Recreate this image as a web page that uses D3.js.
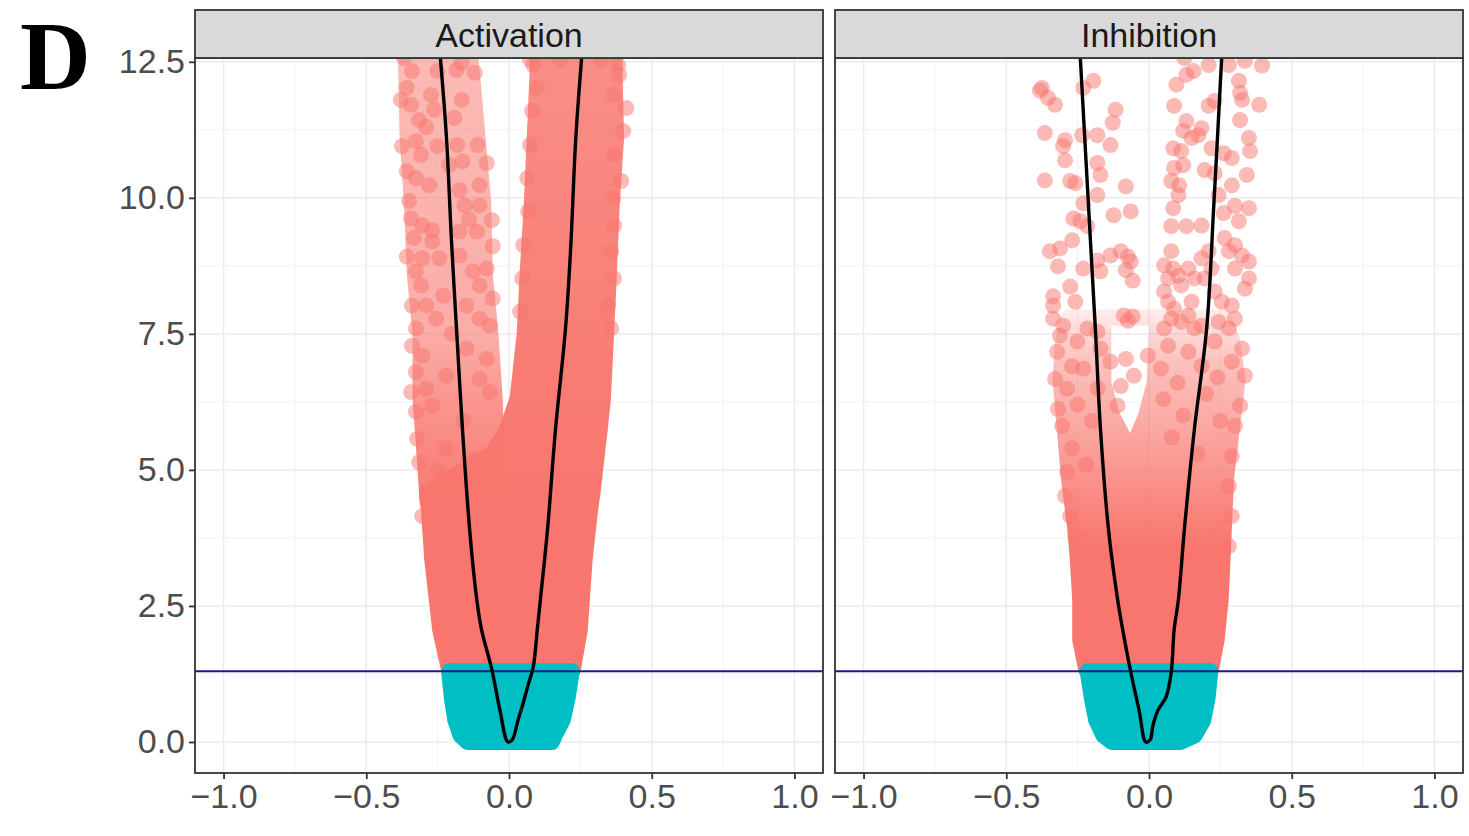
<!DOCTYPE html>
<html>
<head>
<meta charset="utf-8">
<script src="https://cdn.jsdelivr.net/npm/d3@7"></script>
<style>
    body { margin: 0; background: #fff; }
    svg { display: block; font-family: "Liberation Sans", Arial, sans-serif; }
</style>
</head>
<body>
<svg id="canvas"></svg>
<script>
const FACETS = ["Activation", "Inhibition"];
const X_TICKS = [-1, -0.5, 0, 0.5, 1];
const X_MINOR = [-0.75, -0.25, 0.25, 0.75];
const Y_TICKS = [0, 2.5, 5, 7.5, 10, 12.5];
const Y_MINOR = [1.25, 3.75, 6.25, 8.75, 11.25];
const CUTOFF = 1.3;

// dense parts of the point clouds: [y, x left, x right]
const ACT_TEAL = [
    [0.0, -0.145, 0.15], [0.12, -0.17, 0.16], [0.4, -0.188, 0.188], [0.8, -0.2, 0.205], [1.3, -0.21, 0.22]
];
const ACT_MAIN = [
    [1.31, -0.209, 0.223], [2.06, -0.241, 0.248], [3.36, -0.269, 0.265], [4.22, -0.28, 0.283],
    [4.6, -0.287, 0.293], [5.3, -0.06, 0.308], [5.7, -0.01, 0.317],
    [6.31, 0.03, 0.329], [7.5, 0.055, 0.34], [8.6, 0.065, 0.35], [9.9, 0.08, 0.36],
    [11.1, 0.09, 0.375], [12.3, 0.1, 0.37], [12.8, 0.1, 0.37]
];
const ACT_LEFT_ARM = [
    [4.4, -0.285, -0.04], [5.6, -0.3, -0.045], [6.3, -0.31, -0.05], [7.5, -0.31, -0.065],
    [8.6, -0.33, -0.085], [9.9, -0.34, -0.09], [11.1, -0.355, -0.11], [12.3, -0.36, -0.13],
    [12.8, -0.36, -0.14]
];
// how dense each band is along y: [y, share covered]
const ACT_MAIN_DENSITY = [[4.0, 1], [7.0, 0.95], [12.6, 0.82]];
const ACT_LEFT_DENSITY = [[4.5, 0.95], [6.0, 0.8], [7.5, 0.6], [12.6, 0.5]];

const INH_TEAL = [
    [0.0, -0.13, 0.11], [0.12, -0.16, 0.16], [0.4, -0.185, 0.19], [0.8, -0.2, 0.205], [1.3, -0.215, 0.215]
];
const INH_MAIN = [
    [1.31, -0.219, 0.216], [1.88, -0.241, 0.237], [2.62, -0.241, 0.251], [3.4, -0.25, 0.258],
    [3.9, -0.258, 0.262], [4.83, -0.28, 0.27], [5.75, -0.295, 0.29], [6.67, -0.31, 0.31],
    [7.4, -0.3, 0.29], [7.8, -0.28, 0.26]
];
// the empty gap between the two arms
const INH_GAP = [
    [5.5, -0.08, -0.05], [6.0, -0.13, -0.01], [6.6, -0.16, 0.02], [7.8, -0.16, 0.03]
];
const INH_MAIN_DENSITY = [[3.6, 1], [4.8, 0.8], [6.0, 0.6], [7.0, 0.45], [7.9, 0.15]];

// single points around the clouds: [x, y]
const ACT_POINTS = [
    [-0.368, 12.57], [-0.340, 12.33], [-0.358, 12.02], [-0.379, 11.80], [-0.343, 11.71],
    [-0.315, 11.43], [-0.273, 11.89], [-0.251, 12.33], [-0.166, 12.48], [-0.184, 12.35],
    [-0.120, 12.30], [-0.166, 11.80], [-0.191, 11.47], [-0.262, 11.62], [-0.375, 10.95],
    [-0.326, 11.04], [-0.308, 10.79], [-0.251, 10.95], [-0.181, 10.97], [-0.110, 10.97],
    [-0.078, 10.64], [-0.163, 10.67], [-0.358, 10.49], [-0.326, 10.36], [-0.280, 10.23],
    [-0.350, 9.94], [-0.173, 10.14], [-0.103, 10.23], [-0.103, 9.86], [-0.060, 9.59],
    [-0.156, 9.86], [-0.343, 9.62], [-0.304, 9.49], [-0.269, 9.40], [-0.333, 9.26],
    [-0.269, 9.20], [-0.173, 9.38], [-0.113, 9.38], [-0.057, 9.11], [-0.358, 8.92],
    [-0.304, 8.89], [-0.244, 8.89], [-0.326, 8.65], [-0.308, 8.39], [-0.173, 8.94],
    [-0.127, 8.65], [-0.078, 8.70], [-0.103, 8.39], [-0.057, 8.15], [-0.340, 8.02],
    [-0.290, 8.02], [-0.255, 7.78], [-0.326, 7.60], [-0.149, 8.02], [-0.103, 7.78],
    [-0.067, 7.65], [-0.340, 7.28], [-0.304, 7.10], [-0.326, 6.80], [-0.290, 6.49],
    [-0.149, 7.23], [-0.078, 7.04], [-0.103, 6.67], [-0.067, 6.43], [-0.219, 6.73],
    [-0.269, 6.18], [-0.343, 6.43], [-0.326, 6.07], [-0.322, 5.57], [-0.315, 5.14],
    [-0.280, 4.65], [-0.304, 4.15], [-0.22, 5.4], [-0.16, 5.9], [-0.25, 5.0],
    [-0.12, 5.2], [-0.2, 7.5], [-0.23, 8.2], [-0.14, 9.6], [-0.21, 10.6], [-0.29, 11.3],
    [0.382, 12.44], [0.386, 12.26], [0.368, 11.89], [0.411, 11.65], [0.400, 11.23],
    [0.368, 10.79], [0.393, 10.31], [0.365, 9.99], [0.368, 9.49], [0.358, 9.02],
    [0.368, 8.52], [0.347, 8.02], [0.358, 7.60], [0.085, 12.44], [0.099, 12.02],
    [0.081, 11.60], [0.074, 10.97], [0.064, 10.36], [0.067, 9.75], [0.050, 9.13],
    [0.046, 8.52], [0.039, 7.91], [0.074, 12.54], [0.18, 12.54], [0.322, 12.54]
];

const INH_POINTS = [
    [-0.375, 12.02], [-0.382, 11.97], [-0.354, 11.84], [-0.329, 11.71], [-0.365, 11.19],
    [-0.294, 11.06], [-0.301, 10.95], [-0.294, 10.69], [-0.365, 10.32], [-0.276, 10.31],
    [-0.258, 10.27], [-0.230, 12.02], [-0.195, 12.15], [-0.234, 11.15], [-0.181, 11.15],
    [-0.135, 10.97], [-0.117, 11.62], [-0.127, 11.38], [-0.181, 10.64], [-0.170, 10.42],
    [-0.081, 10.21], [-0.181, 10.05], [-0.124, 9.68], [-0.064, 9.75], [-0.230, 9.90],
    [-0.265, 9.62], [-0.241, 9.57], [-0.216, 9.48], [-0.269, 9.22], [-0.347, 9.02],
    [-0.312, 9.07], [-0.319, 8.74], [-0.276, 8.37], [-0.258, 8.09], [-0.336, 8.19],
    [-0.336, 8.02], [-0.336, 7.78], [-0.301, 7.65], [-0.230, 8.70], [-0.181, 8.85],
    [-0.135, 8.94], [-0.099, 9.02], [-0.074, 8.92], [-0.064, 8.83], [-0.081, 8.67],
    [-0.057, 8.48], [-0.088, 7.84], [-0.074, 7.74], [-0.057, 7.82], [-0.170, 8.65],
    [-0.216, 7.60], [-0.181, 7.54],
    [0.096, 12.08], [0.131, 12.26], [0.156, 12.33], [0.124, 12.57], [0.209, 12.44],
    [0.088, 11.69], [0.131, 11.41], [0.120, 11.23], [0.149, 11.10], [0.173, 11.15],
    [0.184, 11.28], [0.209, 11.69], [0.230, 11.78], [0.085, 10.91], [0.113, 10.86],
    [0.120, 10.60], [0.088, 10.55], [0.078, 10.31], [0.106, 10.23], [0.103, 10.05],
    [0.085, 9.81], [0.078, 9.48], [0.131, 9.48], [0.184, 9.49], [0.195, 10.51],
    [0.230, 10.45], [0.219, 10.91], [0.262, 10.82], [0.290, 10.73], [0.290, 10.23],
    [0.301, 9.85], [0.350, 9.81], [0.244, 10.05], [0.262, 9.72], [0.319, 11.43],
    [0.350, 11.10], [0.354, 10.86], [0.343, 10.42], [0.315, 12.15], [0.319, 11.93],
    [0.326, 11.80], [0.386, 11.71], [0.280, 12.44], [0.336, 12.52], [0.396, 12.43],
    [0.315, 9.57], [0.265, 9.26], [0.301, 9.13], [0.280, 9.02], [0.326, 8.94],
    [0.350, 8.83], [0.301, 8.70], [0.350, 8.52], [0.336, 8.33], [0.209, 9.02],
    [0.184, 8.89], [0.219, 8.70], [0.195, 8.52], [0.230, 8.28], [0.255, 8.09],
    [0.290, 8.02], [0.301, 7.78], [0.280, 7.60], [0.244, 7.72], [0.078, 9.02],
    [0.053, 8.76], [0.085, 8.70], [0.067, 8.52], [0.103, 8.57], [0.113, 8.39],
    [0.138, 8.70], [0.159, 8.52], [0.053, 8.28], [0.067, 8.09], [0.088, 7.96],
    [0.078, 7.78], [0.053, 7.60], [0.113, 7.72], [0.138, 7.84], [0.159, 7.60],
    [0.184, 7.65], [0.149, 8.09],
    [-0.322, 7.17], [-0.329, 6.67], [-0.319, 6.12], [-0.304, 5.81], [-0.287, 4.96],
    [-0.294, 4.52], [-0.276, 4.15], [-0.258, 3.78], [0.326, 7.23], [0.336, 6.73],
    [0.319, 6.18], [0.301, 5.81], [0.290, 5.25], [0.280, 4.70], [0.290, 4.15],
    [0.280, 3.60], [-0.081, 7.04], [-0.053, 6.73], [-0.110, 6.18],
    [-0.312, 7.47], [-0.251, 7.36], [-0.170, 7.23], [-0.135, 6.99], [-0.004, 7.10],
    [0.067, 7.28], [0.138, 7.17], [0.230, 7.36], [0.290, 6.99], [0.184, 6.91],
    [0.042, 6.86], [-0.230, 6.86], [-0.287, 6.49], [-0.099, 6.54],
    [-0.25, 6.2], [-0.2, 5.9], [-0.27, 5.4], [-0.18, 6.5], [0.05, 6.3], [0.12, 6.0],
    [0.2, 6.4], [0.25, 5.9], [0.08, 5.6], [-0.22, 5.1], [0.17, 5.3], [0.24, 6.7],
    [-0.27, 6.9], [0.1, 6.6]
];

// fitted curves: [x, y]
const ACT_CURVE = [
    [-0.241, 12.61], [-0.219, 11.10], [-0.202, 9.26], [-0.184, 7.60], [-0.163, 5.75],
    [-0.138, 3.91], [-0.113, 2.62], [-0.096, 2.06], [-0.060, 1.33], [-0.032, 0.59],
    [-0.004, 0.00], [0.011, 0.04], [0.032, 0.41], [0.050, 0.72], [0.067, 1.05],
    [0.085, 1.38], [0.099, 2.06], [0.110, 2.62], [0.135, 3.91], [0.163, 5.75],
    [0.198, 7.60], [0.216, 9.07], [0.234, 11.10], [0.255, 12.61]
];
const INH_CURVE = [
    [-0.241, 12.61], [-0.212, 9.86], [-0.188, 7.60], [-0.170, 5.75], [-0.142, 3.91],
    [-0.110, 2.62], [-0.092, 2.06], [-0.064, 1.29], [-0.035, 0.59], [-0.011, 0.00],
    [0.004, 0.04], [0.014, 0.31], [0.032, 0.59], [0.060, 0.83], [0.078, 1.29],
    [0.088, 2.06], [0.103, 2.62], [0.124, 3.91], [0.159, 5.75], [0.202, 7.60],
    [0.227, 9.86], [0.255, 12.61]
];

const RED = "#F8766D";
const TEAL = "#00BFC4";

const facets = [
    {
        name: FACETS[0], teal: ACT_TEAL, points: ACT_POINTS, curve: ACT_CURVE,
        clouds: [
            { rows: ACT_LEFT_ARM, density: ACT_LEFT_DENSITY },
            { rows: ACT_MAIN, density: ACT_MAIN_DENSITY }
        ]
    },
    {
        name: FACETS[1], teal: INH_TEAL, points: INH_POINTS, curve: INH_CURVE,
        clouds: [
            { rows: INH_MAIN, gap: INH_GAP, density: INH_MAIN_DENSITY }
        ]
    }
];

const width = 1469;
const height = 836;
const panelTop = 58;
const panelBottom = 773;
const stripTop = 10;
const panelRanges = [[195, 823], [835, 1463]];

const canvas = d3.select("#canvas")
    .attr("width", width)
    .attr("height", height);
const defs = canvas.append("defs");

const yScale = d3.scaleLinear()
    .domain([-0.57, 12.57])
    .range([panelBottom, panelTop]);

//Panel tag
canvas.append("text")
    .attr("x", 20)
    .attr("y", 89)
    .attr("font-family", "'Liberation Serif', 'Times New Roman', serif")
    .attr("font-weight", "bold")
    .attr("font-size", 98)
    .attr("fill", "#000")
    .text("D");

facets.forEach((facet, i) => {
    const [x0, x1] = panelRanges[i];
    const xScale = d3.scaleLinear()
        .domain([-1.1, 1.1])
        .range([x0, x1]);

    const clipId = "clip" + i;
    defs.append("clipPath")
        .attr("id", clipId)
        .append("rect")
        .attr("x", x0)
        .attr("y", panelTop)
        .attr("width", x1 - x0)
        .attr("height", panelBottom - panelTop);

    const panel = canvas.append("g")
        .attr("clip-path", `url(#${clipId})`);

    //Grid lines
    const drawLines = (values, vertical, colour, size) => {
        panel.append("g")
            .selectAll("line")
            .data(values)
            .enter()
            .append("line")
            .attr("x1", d => vertical ? xScale(d) : x0)
            .attr("x2", d => vertical ? xScale(d) : x1)
            .attr("y1", d => vertical ? panelTop : yScale(d))
            .attr("y2", d => vertical ? panelBottom : yScale(d))
            .attr("stroke", colour)
            .attr("stroke-width", size);
    };
    drawLines(X_MINOR, true, "#F2F2F2", 1);
    drawLines(Y_MINOR, false, "#F2F2F2", 1);
    drawLines(X_TICKS, true, "#EBEBEB", 1.5);
    drawLines(Y_TICKS, false, "#EBEBEB", 1.5);

    //Dense parts of the clouds, faded with height where the points thin out
    const band = d3.area()
        .y(d => yScale(d[0]))
        .x0(d => xScale(d[1]))
        .x1(d => xScale(d[2]));

    facet.clouds.forEach((cloud, k) => {
        const id = `f${i}c${k}`;
        const lo = cloud.density[0][0];
        const hi = cloud.density[cloud.density.length - 1][0];
        const grad = defs.append("linearGradient")
            .attr("id", "g" + id)
            .attr("gradientUnits", "userSpaceOnUse")
            .attr("x1", 0).attr("x2", 0)
            .attr("y1", yScale(lo)).attr("y2", yScale(hi));
        grad.selectAll("stop")
            .data(cloud.density)
            .enter()
            .append("stop")
            .attr("offset", d => (d[0] - lo) / (hi - lo))
            .attr("stop-color", "#fff")
            .attr("stop-opacity", d => d[1]);
        defs.append("mask")
            .attr("id", "m" + id)
            .attr("maskUnits", "userSpaceOnUse")
            .attr("x", 0).attr("y", 0)
            .attr("width", width).attr("height", height)
            .append("rect")
            .attr("x", 0).attr("y", 0)
            .attr("width", width).attr("height", height)
            .attr("fill", `url(#g${id})`);

        panel.append("path")
            .attr("d", band(cloud.rows) + (cloud.gap ? band(cloud.gap) : ""))
            .attr("fill-rule", "evenodd")
            .attr("fill", RED)
            .attr("stroke", RED)
            .attr("stroke-width", 16)
            .attr("stroke-linejoin", "round")
            .attr("mask", `url(#m${id})`);
    });

    //Single points
    panel.append("g")
        .selectAll("circle")
        .data(facet.points)
        .enter()
        .append("circle")
        .attr("cx", d => xScale(d[0]))
        .attr("cy", d => yScale(d[1]))
        .attr("r", 8)
        .attr("fill", RED)
        .attr("fill-opacity", 0.5);

    //Non significant genes
    panel.append("path")
        .datum(facet.teal)
        .attr("d", band)
        .attr("fill", TEAL)
        .attr("stroke", TEAL)
        .attr("stroke-width", 16)
        .attr("stroke-linejoin", "round");

    //Cutoff line
    panel.append("line")
        .attr("x1", x0).attr("x2", x1)
        .attr("y1", yScale(CUTOFF)).attr("y2", yScale(CUTOFF))
        .attr("stroke", "#1A1A8C")
        .attr("stroke-width", 2);

    //Fitted curve
    panel.append("path")
        .datum(facet.curve)
        .attr("d", d3.line().x(d => xScale(d[0])).y(d => yScale(d[1])).curve(d3.curveCatmullRom))
        .attr("fill", "none")
        .attr("stroke", "#000")
        .attr("stroke-width", 3.4)
        .attr("stroke-linejoin", "round");

    //Border and strip
    canvas.append("rect")
        .attr("x", x0).attr("y", panelTop)
        .attr("width", x1 - x0).attr("height", panelBottom - panelTop)
        .attr("fill", "none")
        .attr("stroke", "#333")
        .attr("stroke-width", 1.8);
    canvas.append("rect")
        .attr("x", x0).attr("y", stripTop)
        .attr("width", x1 - x0).attr("height", panelTop - stripTop)
        .attr("fill", "#D9D9D9")
        .attr("stroke", "#333")
        .attr("stroke-width", 1.8);
    canvas.append("text")
        .attr("x", (x0 + x1) / 2)
        .attr("y", (stripTop + panelTop) / 2 + 1)
        .attr("text-anchor", "middle")
        .attr("dominant-baseline", "central")
        .attr("font-size", 34)
        .attr("fill", "#1A1A1A")
        .text(facet.name);

    //Axes
    const xAxis = d3.axisBottom(xScale)
        .tickValues(X_TICKS)
        .tickFormat(d3.format(".1f"))
        .tickSize(6)
        .tickPadding(5);
    const gx = canvas.append("g")
        .attr("transform", `translate(0, ${panelBottom})`)
        .call(xAxis);
    styleAxis(gx);

    if (i === 0) {
        const yAxis = d3.axisLeft(yScale)
            .tickValues(Y_TICKS)
            .tickFormat(d3.format(".1f"))
            .tickSize(6)
            .tickPadding(4);
        const gy = canvas.append("g")
            .attr("transform", `translate(${x0}, 0)`)
            .call(yAxis);
        styleAxis(gy);
    }
});

function styleAxis(g) {
    g.select(".domain").remove();
    g.attr("font-size", 34)
        .attr("font-family", "'Liberation Sans', Arial, sans-serif");
    g.selectAll(".tick line")
        .attr("stroke", "#333")
        .attr("stroke-width", 1.8);
    g.selectAll(".tick text")
        .attr("fill", "#4D4D4D");
}
</script>
</body>
</html>
